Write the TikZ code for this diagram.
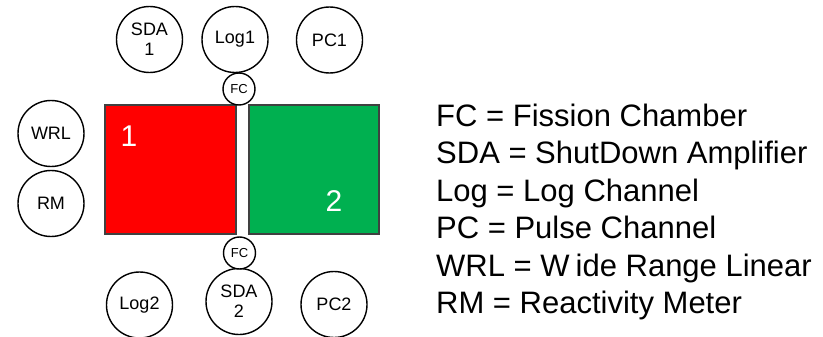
\documentclass[tikz,border=0pt]{standalone}
\usepackage{fontspec}
\setmainfont{Liberation Sans}
\definecolor{coregreen}{HTML}{00B050}
\begin{document}
\begin{tikzpicture}[x=1pt,y=-1pt,
  unit/.style={circle,draw=black,line width=1.4pt,fill=white,minimum size=66pt,inner sep=0pt,
    font=\fontsize{18}{20}\selectfont,align=center},
  chamber/.style={circle,draw=black,line width=1.4pt,fill=white,minimum size=32pt,inner sep=0pt,
    font=\fontsize{13}{14}\selectfont},
  core/.style={draw=black!75,line width=1.2pt},
  corenum/.style={text=white,font=\fontsize{30}{30}\selectfont,inner sep=0pt},
  legend/.style={anchor=base west,inner sep=0pt,font=\fontsize{31}{31}\selectfont}]
\useasboundingbox (0,0) rectangle (823,337);
% the two core halves
\filldraw[core,fill=red] (105,105) rectangle (236,234);
\filldraw[core,fill=coregreen] (249,105) rectangle (379,234);
\node[corenum] (n1) at (129,136) {1};
\node[corenum] (n2) at (334,201) {2};
% instrument channels
\node[unit] (sda1) at (149.5,39.5) {SDA\\1};
\node[unit] (log1) at (235,39.5) {Log1};
\node[unit] (pc1) at (329.5,40) {PC1};
\node[unit] (wrl) at (51,133.5) {WRL};
\node[unit] (rm) at (51,203.5) {RM};
\node[unit] (log2) at (139.5,305) {Log2};
\node[unit] (sda2) at (239,301.5) {SDA\\2};
\node[unit] (pc2) at (334,304.5) {PC2};
% fission chambers
\node[chamber] (fct) at (239,89) {FC};
\node[chamber] (fcb) at (239.5,253) {FC};
% legend
\node[legend] (l1) at (436,127) {FC = Fission Chamber};
\node[legend] (l2) at (436,164) {SDA = ShutDown Amplifier};
\node[legend] (l3) at (436,201) {Log = Log Channel};
\node[legend] (l4) at (436,238.5) {PC = Pulse Channel};
\node[legend] (l5) at (436,276) {WRL = W\kern6pt ide Range Linear};
\node[legend] (l6) at (436,313) {RM = Reactivity Meter};
\end{tikzpicture}
\end{document}
